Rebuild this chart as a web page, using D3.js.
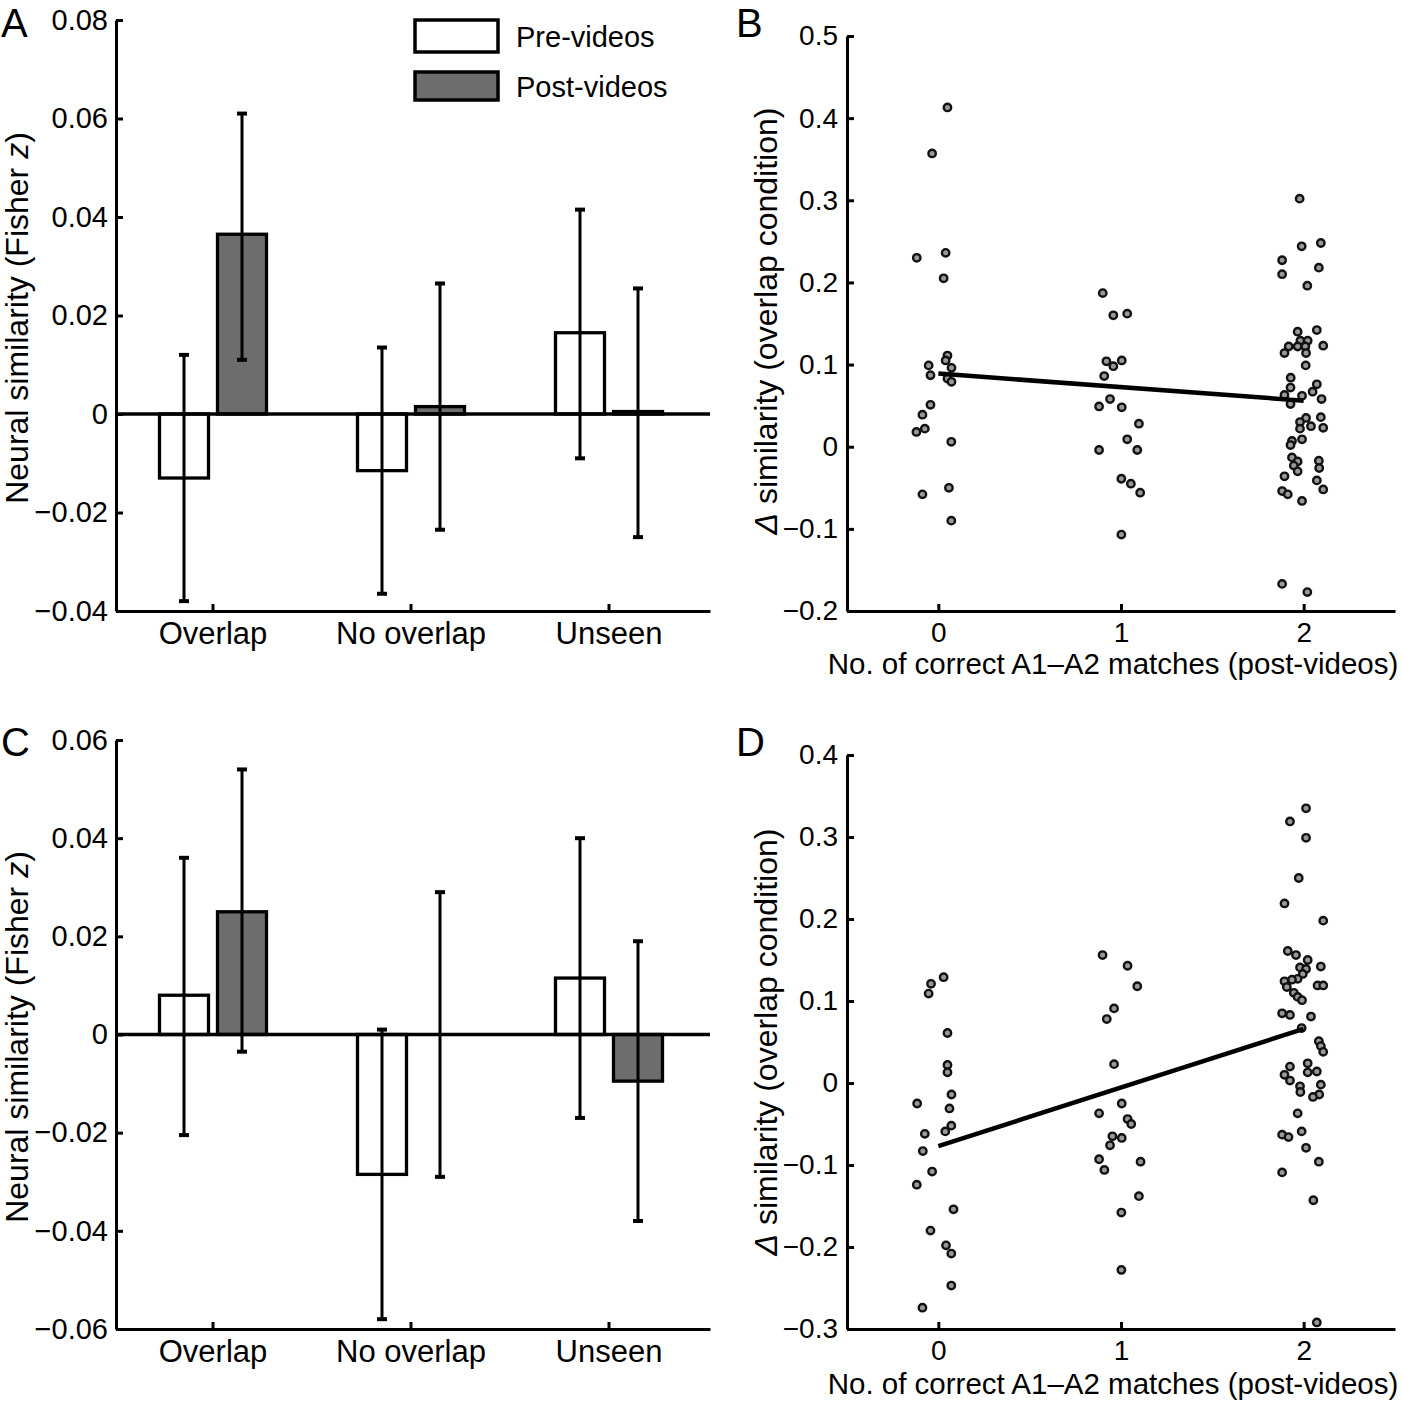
<!DOCTYPE html>
<html><head><meta charset="utf-8">
<script src="https://cdn.jsdelivr.net/npm/d3@7"></script>
<style>
body{margin:0;background:#fff}
text{font-family:"Liberation Sans",Arial,Helvetica,sans-serif;fill:#000}
</style>
</head><body>
<svg id="chart" width="1403" height="1401"></svg>
<script>
// ---------- DATA ----------
const categories = ["Overlap", "No overlap", "Unseen"];
const seriesNames = ["Pre-videos", "Post-videos"];

// Panel A (bar means and error-bar ends)
const aPre      = [-0.013, -0.0115, 0.0165];
const aPreLow   = [-0.038, -0.0365, -0.009];
const aPreHigh  = [0.012, 0.0135, 0.0415];
const aPost     = [0.0365, 0.0015, 0.0005];
const aPostLow  = [0.011, -0.0235, -0.025];
const aPostHigh = [0.061, 0.0265, 0.0255];
const aTicks    = [-0.04, -0.02, 0, 0.02, 0.04, 0.06, 0.08];

// Panel C
const cPre      = [0.008, -0.0285, 0.0115];
const cPreLow   = [-0.0205, -0.058, -0.017];
const cPreHigh  = [0.036, 0.001, 0.040];
const cPost     = [0.025, 0.0, -0.0095];
const cPostLow  = [-0.0035, -0.029, -0.038];
const cPostHigh = [0.054, 0.029, 0.019];
const cTicks    = [-0.06, -0.04, -0.02, 0, 0.02, 0.04, 0.06];

// Panel B scatter: [jittered no. of matches, delta similarity]
const bPoints = [
  [0.05,0.413],[-0.034,0.357],[-0.118,0.230],[0.04,0.236],[0.029,0.205],[0.05,0.111],[0.04,0.105],
  [-0.053,0.099],[0.072,0.096],[-0.043,0.087],[0.05,0.083],[0.072,0.079],[-0.043,0.051],[-0.087,0.039],
  [-0.12,0.018],[-0.074,0.022],[0.071,0.006],[0.058,-0.050],[-0.087,-0.058],[0.071,-0.090],
  [0.90,0.187],[0.958,0.160],[1.034,0.162],[0.92,0.104],[0.958,0.098],[1.004,0.105],[0.908,0.086],
  [0.94,0.058],[0.88,0.049],[1.004,0.048],[1.098,0.028],[1.034,0.009],[0.88,-0.004],[1.089,-0.004],
  [1.002,-0.039],[1.054,-0.045],[1.105,-0.056],[1.002,-0.107],
  [1.978,0.302],[1.989,0.244],[2.094,0.248],[1.882,0.227],[1.882,0.210],[2.083,0.218],[2.02,0.196],
  [1.967,0.140],[2.072,0.142],[1.982,0.129],[2.022,0.129],[1.918,0.122],[1.967,0.122],[2.009,0.122],
  [2.107,0.123],[1.895,0.114],[2.013,0.114],[2.011,0.099],[1.929,0.084],[1.928,0.072],[2.072,0.076],
  [2.049,0.067],[1.895,0.063],[1.991,0.062],[2.098,0.058],[1.928,0.052],[2.013,0.035],[2.094,0.036],
  [1.98,0.030],[2.04,0.025],[2.107,0.023],[1.98,0.022],[1.991,0.009],[1.936,0.007],[1.928,0.002],
  [1.936,-0.013],[1.967,-0.018],[1.946,-0.023],[1.967,-0.030],[2.083,-0.017],[2.085,-0.026],
  [1.895,-0.036],[2.072,-0.041],[2.107,-0.052],[1.882,-0.054],[1.913,-0.058],[1.991,-0.066],
  [1.882,-0.167],[2.02,-0.177]
];
const bFit = [[0, 0.089], [2, 0.056]];
const bTicks = [-0.2, -0.1, 0, 0.1, 0.2, 0.3, 0.4, 0.5];

// Panel D scatter
const dPoints = [
  [0.029,0.129],[-0.04,0.121],[-0.053,0.109],[0.05,0.061],[0.05,0.022],[0.05,0.013],[0.072,-0.014],
  [-0.116,-0.025],[0.061,-0.031],[0.071,-0.052],[0.038,-0.059],[-0.074,-0.062],[-0.085,-0.083],
  [-0.034,-0.108],[-0.118,-0.124],[0.083,-0.154],[-0.043,-0.180],[0.042,-0.198],[0.071,-0.208],
  [0.071,-0.247],[-0.087,-0.274],
  [0.899,0.156],[1.036,0.143],[1.089,0.118],[0.962,0.091],[0.922,0.078],[0.962,0.023],[1.004,-0.025],
  [0.88,-0.037],[1.036,-0.044],[1.056,-0.050],[0.953,-0.065],[1.004,-0.067],[0.94,-0.076],[0.88,-0.093],
  [0.909,-0.106],[1.107,-0.096],[1.098,-0.138],[1.002,-0.158],[1.002,-0.228],
  [2.013,0.335],[1.925,0.319],[2.013,0.299],[1.973,0.250],[1.895,0.219],[2.107,0.198],[1.913,0.161],
  [1.958,0.156],[2.022,0.150],[1.98,0.141],[2.013,0.139],[2.094,0.142],[1.995,0.133],[1.967,0.127],
  [1.936,0.126],[1.895,0.124],[1.908,0.117],[2.076,0.119],[2.107,0.119],[1.946,0.110],[1.967,0.105],
  [1.991,0.101],[1.882,0.085],[1.925,0.083],[2.04,0.081],[1.989,0.067],[2.083,0.051],[2.094,0.045],
  [2.107,0.038],[1.925,0.020],[2.022,0.024],[2.022,0.013],[2.072,0.014],[1.895,0.010],[1.925,0.003],
  [2.094,-0.002],[1.98,-0.004],[1.982,-0.011],[2.085,-0.014],[2.051,-0.017],[1.967,-0.037],
  [1.882,-0.063],[1.917,-0.066],[1.989,-0.059],[2.013,-0.079],[2.083,-0.096],[1.882,-0.109],
  [2.053,-0.143],[2.072,-0.292]
];
const dFit = [[0, -0.077], [2, 0.066]];
const dTicks = [-0.3, -0.2, -0.1, 0, 0.1, 0.2, 0.3, 0.4];
const xTicks = [0, 1, 2];

// ---------- DRAWING ----------
const svg = d3.select("#chart");
const POST_FILL = "#6d6d6d";
const minus = "\u2212";
const fmt = dec => d => d === 0 ? "0" : (d < 0 ? minus : "") + Math.abs(d).toFixed(dec);

function styleAxis(g, fs) {
  g.select(".domain").attr("stroke", "#000").attr("stroke-width", 3);
  g.selectAll(".tick line").attr("stroke", "#000").attr("stroke-width", 3);
  g.selectAll(".tick text").attr("font-size", fs).attr("fill", "#000")
    .style("font-family", '"Liberation Sans", Arial, sans-serif');
}

function drawBarPanel(o) {
  const g = svg.append("g");
  const x = d3.scaleBand().domain(categories).range([116, 710]);
  const x1 = d3.scaleBand().domain(seriesNames).range([-53.5, 53.5]).paddingInner(0.155);
  const y = d3.scaleLinear().domain(o.domain).range([o.bottom, o.top]);
  const cx = c => x(c) + x.bandwidth() / 2 - 2;

  const series = [
    {name: seriesNames[0], vals: o.pre, lo: o.preLow, hi: o.preHigh, fill: "#fff"},
    {name: seriesNames[1], vals: o.post, lo: o.postLow, hi: o.postHigh, fill: POST_FILL}
  ];
  series.forEach(s => {
    g.selectAll(null).data(categories).enter().append("rect")
      .attr("x", c => cx(c) + x1(s.name))
      .attr("width", x1.bandwidth())
      .attr("y", (c, i) => y(Math.max(0, s.vals[i])))
      .attr("height", (c, i) => Math.abs(y(s.vals[i]) - y(0)))
      .attr("fill", s.fill).attr("stroke", "#000").attr("stroke-width", 3.3);
  });
  g.append("line").attr("x1", 116).attr("x2", 710).attr("y1", y(0)).attr("y2", y(0))
    .attr("stroke", "#000").attr("stroke-width", 3.5);
  series.forEach(s => {
    categories.forEach((c, i) => {
      const xm = cx(c) + x1(s.name) + x1.bandwidth() / 2;
      g.append("line").attr("x1", xm).attr("x2", xm).attr("y1", y(s.lo[i])).attr("y2", y(s.hi[i]))
        .attr("stroke", "#000").attr("stroke-width", 3);
      [s.lo[i], s.hi[i]].forEach(v => {
        g.append("line").attr("x1", xm - 5).attr("x2", xm + 5).attr("y1", y(v)).attr("y2", y(v))
          .attr("stroke", "#000").attr("stroke-width", 4);
      });
    });
  });
  const ya = g.append("g").attr("transform", "translate(116,0)")
    .call(d3.axisLeft(y).tickValues(o.ticks).tickSizeInner(-7).tickSizeOuter(0).tickPadding(8).tickFormat(fmt(2)));
  styleAxis(ya, 29);
  const xa = g.append("g").attr("transform", `translate(0,${o.bottom})`)
    .call(d3.axisBottom(x).tickSizeInner(-7).tickSizeOuter(0).tickPadding(11));
  xa.selectAll(".tick").attr("transform", c => `translate(${cx(c)},0)`);
  styleAxis(xa, 31);
  const t = g.append("text").attr("transform", `translate(28,${o.titleY}) rotate(-90)`)
    .attr("text-anchor", "middle").attr("font-size", 32);
  t.append("tspan").text("Neural similarity (Fisher ");
  t.append("tspan").attr("font-style", "italic").text("z");
  t.append("tspan").text(")");
  g.append("text").attr("x", 1).attr("y", o.letterY).attr("font-size", 40).text(o.letter);
}

function drawScatterPanel(o) {
  const g = svg.append("g");
  const x = d3.scaleLinear().domain([-0.5, 2.5]).range([847, 1395]);
  const y = d3.scaleLinear().domain(o.domain).range([o.bottom, o.top]);
  g.selectAll("circle").data(o.points).enter().append("circle")
    .attr("cx", d => x(d[0])).attr("cy", d => y(d[1])).attr("r", 3.7)
    .attr("fill", "#999").attr("stroke", "#111").attr("stroke-width", 2.4);
  g.append("line")
    .attr("x1", x(o.fit[0][0])).attr("y1", y(o.fit[0][1]))
    .attr("x2", x(o.fit[1][0])).attr("y2", y(o.fit[1][1]))
    .attr("stroke", "#000").attr("stroke-width", 4.5);
  const ya = g.append("g").attr("transform", "translate(847,0)")
    .call(d3.axisLeft(y).tickValues(o.ticks).tickSizeInner(-7).tickSizeOuter(0).tickPadding(9).tickFormat(fmt(1)));
  styleAxis(ya, 28);
  const xa = g.append("g").attr("transform", `translate(0,${o.bottom})`)
    .call(d3.axisBottom(x).tickValues(xTicks).tickSizeInner(-7).tickSizeOuter(0).tickPadding(11).tickFormat(d3.format("d")));
  styleAxis(xa, 28);
  g.append("text").attr("x", 1113).attr("y", o.xTitleY).attr("text-anchor", "middle")
    .attr("font-size", 29.5).text("No. of correct A1\u2013A2 matches (post-videos)");
  const t = g.append("text").attr("transform", `translate(777,${o.titleY}) rotate(-90)`)
    .attr("text-anchor", "middle").attr("font-size", 32);
  t.append("tspan").attr("font-style", "italic").text("\u0394");
  t.append("tspan").text(" similarity (overlap condition)");
  g.append("text").attr("x", 736).attr("y", o.letterY).attr("font-size", 40).text(o.letter);
}

drawBarPanel({pre: aPre, preLow: aPreLow, preHigh: aPreHigh, post: aPost, postLow: aPostLow, postHigh: aPostHigh,
  ticks: aTicks, domain: [-0.04, 0.08], top: 20, bottom: 611, titleY: 318, letter: "A", letterY: 37});
drawBarPanel({pre: cPre, preLow: cPreLow, preHigh: cPreHigh, post: cPost, postLow: cPostLow, postHigh: cPostHigh,
  ticks: cTicks, domain: [-0.06, 0.06], top: 740, bottom: 1329, titleY: 1037, letter: "C", letterY: 756});
drawScatterPanel({points: bPoints, fit: bFit, ticks: bTicks, domain: [-0.2, 0.5], top: 36, bottom: 611,
  xTitleY: 674, titleY: 321, letter: "B", letterY: 37});
drawScatterPanel({points: dPoints, fit: dFit, ticks: dTicks, domain: [-0.3, 0.4], top: 755, bottom: 1329,
  xTitleY: 1394, titleY: 1042, letter: "D", letterY: 756});

// legend
const lg = svg.append("g");
seriesNames.forEach((n, i) => {
  lg.append("rect").attr("x", 415).attr("y", 20 + i * 52).attr("width", 83).attr("height", i === 0 ? 32 : 28)
    .attr("fill", i === 0 ? "#fff" : POST_FILL).attr("stroke", "#000").attr("stroke-width", 3.5);
  lg.append("text").attr("x", 516).attr("y", 47 + i * 50).attr("font-size", 29).text(n);
});
</script>
</body></html>
